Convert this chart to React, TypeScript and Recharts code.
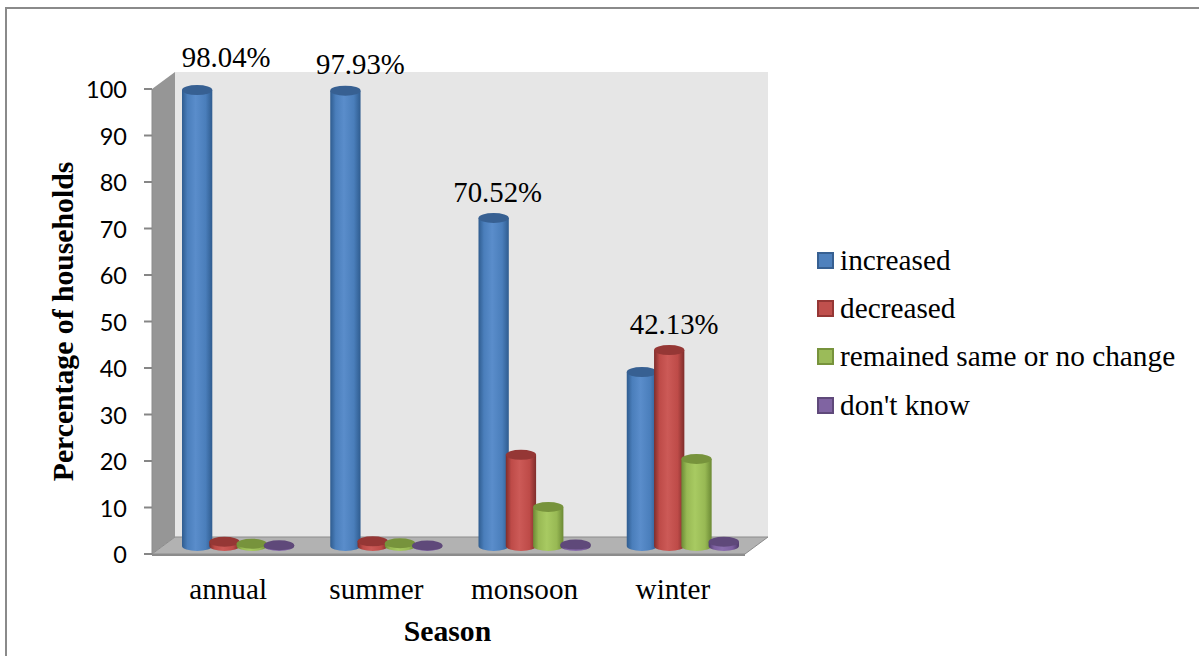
// App.tsx – household perception by season, drawn as a pseudo-3D cylinder bar chart
import React from 'react';
import { BarChart, Bar, XAxis, YAxis, Legend, LabelList, ReferenceArea } from 'recharts';

const seasons = ['annual', 'summer', 'monsoon', 'winter'];
const increased = [98.04, 97.93, 70.52, 37.4];
const decreased = [0.9, 1.0, 19.6, 42.13];
const remainedSame = [0.5, 0.6, 8.4, 18.7];
const dontKnow = [0.15, 0.1, 0.3, 0.9];
const yTicks = [0, 10, 20, 30, 40, 50, 60, 70, 80, 90, 100];

const chartData = seasons.map((season, i) => ({
  season,
  increased: increased[i],
  decreased: decreased[i],
  remainedSame: remainedSame[i],
  dontKnow: dontKnow[i],
}));

const SERIF = '"Liberation Serif", "Times New Roman", serif';
const SANS = 'Lato, "Open Sans", sans-serif';

// chart box
const WIDTH = 1199;
const HEIGHT = 656;
const TOP = 89;
const LEFT = 152;
const RIGHT = 454;
const X_AXIS_HEIGHT = 102;

// how far the back wall sits behind the axis plane
const WALL_DX = 23;
const WALL_DY = 17;
// bars stand in the middle of the floor
const BAR_DX = 11.5;
const BAR_DY = -8;
const BAR_OVERLAP = 3;
const CAP_RY = 5;

type Palette = { id: string; edge: string; mid: string; light: string; cap: string; swatch: string };

const blue: Palette = { id: 'cyl-blue', edge: '#2f5c8f', mid: '#4a7ebb', light: '#5a8dcb', cap: '#376092', swatch: '#4f81bd' };
const red: Palette = { id: 'cyl-red', edge: '#7f2d2b', mid: '#be4b48', light: '#cc5a57', cap: '#953735', swatch: '#c0504d' };
const green: Palette = { id: 'cyl-green', edge: '#6c8a35', mid: '#98b954', light: '#a8ca62', cap: '#77933c', swatch: '#9bbb59' };
const purple: Palette = { id: 'cyl-purple', edge: '#4f3a6b', mid: '#7d60a0', light: '#8a6eae', cap: '#5f497a', swatch: '#8064a2' };

const palettes = [blue, red, green, purple];

function CylinderGradient({ p }: { p: Palette }) {
  return (
    <linearGradient id={p.id} x1="0" y1="0" x2="1" y2="0">
      <stop offset="0%" stopColor={p.edge} />
      <stop offset="18%" stopColor={p.mid} />
      <stop offset="45%" stopColor={p.light} />
      <stop offset="78%" stopColor={p.mid} />
      <stop offset="100%" stopColor={p.edge} />
    </linearGradient>
  );
}

// Bar shape: a cylinder with an elliptical cap, moved back onto the floor
const cylinder = (p: Palette) => (props: any) => {
  const { x, y, width, height } = props;
  const left = x + BAR_DX - BAR_OVERLAP / 2;
  const w = width + BAR_OVERLAP;
  const rx = w / 2;
  const top = y + BAR_DY;
  const bottom = y + height + BAR_DY;
  const body = `M${left},${top} L${left},${bottom} A${rx},${CAP_RY} 0 0 0 ${left + w},${bottom} L${left + w},${top} Z`;
  return (
    <g>
      <path d={body} fill={`url(#${p.id})`} />
      <ellipse cx={left + rx} cy={top} rx={rx} ry={CAP_RY} fill={p.cap} />
    </g>
  );
};

// Back wall, side wall and floor, built on the rectangle the scales give
function Walls(props: any) {
  const { x, y, width, height } = props;
  const right = x + width;
  const bottom = y + height;
  return (
    <g>
      <polygon
        points={`${x + WALL_DX},${y - WALL_DY} ${right + WALL_DX},${y - WALL_DY} ${right + WALL_DX},${bottom - WALL_DY} ${x + WALL_DX},${bottom - WALL_DY}`}
        fill="#e6e6e6"
      />
      <polygon
        points={`${x},${y} ${x + WALL_DX},${y - WALL_DY} ${x + WALL_DX},${bottom - WALL_DY} ${x},${bottom}`}
        fill="#969696"
      />
      <polygon
        points={`${x},${bottom} ${x + WALL_DX},${bottom - WALL_DY} ${right + WALL_DX},${bottom - WALL_DY} ${right},${bottom}`}
        fill="#b2b2b2"
        stroke="#8c8c8c"
        strokeWidth={1}
      />
      <line x1={x} y1={bottom + 1} x2={right} y2={bottom + 1} stroke="#8c8c8c" strokeWidth={2} />
    </g>
  );
}

// Hand-placed value labels: shift from each bar's cap, per season
const labelNudge = [
  { dx: 29, dy: -23 },
  { dx: 15, dy: -17 },
  { dx: 4, dy: -16 },
  { dx: 5, dy: -16 },
];

const valueLabel = (only: number[]) => (props: any) => {
  const { x, y, width, value, index } = props;
  if (!only.includes(index)) return null;
  const n = labelNudge[index];
  return (
    <text
      x={x + width / 2 + BAR_DX + n.dx}
      y={y + BAR_DY + n.dy}
      textAnchor="middle"
      fontFamily={SERIF}
      fontSize={28.8}
      fill="#000"
    >
      {`${Number(value).toFixed(2)}%`}
    </text>
  );
};

function LegendList({ payload }: any) {
  return (
    <div>
      {(payload ?? []).map((entry: any, i: number) => (
        <div key={entry.value} style={{ display: 'flex', alignItems: 'center', height: 48.3 }}>
          <span
            style={{
              width: 13,
              height: 13,
              marginRight: 6,
              background: palettes[i].swatch,
              border: `2px solid ${palettes[i].cap}`,
              flex: 'none',
            }}
          />
          <span style={{ fontFamily: SERIF, fontSize: 29.3, color: '#000', whiteSpace: 'nowrap' }}>{entry.value}</span>
        </div>
      ))}
    </div>
  );
}

export default function App() {
  return (
    <div style={{ position: 'absolute', left: 0, top: 0, width: WIDTH, height: HEIGHT, overflow: 'hidden', background: '#fff' }}>
      {/* page frame, open on the right and bottom */}
      <div
        style={{
          position: 'absolute',
          left: 5,
          top: 7,
          width: WIDTH + 40,
          height: HEIGHT + 40,
          border: '2px solid #8a8a8a',
          boxSizing: 'border-box',
        }}
      />
      <BarChart
        width={WIDTH}
        height={HEIGHT}
        data={chartData}
        margin={{ top: TOP, right: RIGHT, bottom: 0, left: 0 }}
        barSize={27.3}
        barGap={0}
      >
        <defs>
          {palettes.map((p) => (
            <CylinderGradient key={p.id} p={p} />
          ))}
        </defs>
        <ReferenceArea y1={0} y2={100} shape={Walls} ifOverflow="visible" />
        <XAxis
          dataKey="season"
          height={X_AXIS_HEIGHT}
          axisLine={false}
          tickLine={false}
          tickMargin={18}
          dx={2}
          interval={0}
          tick={{ fontFamily: SERIF, fontSize: 29.2, fill: '#000' }}
          label={{
            value: 'Season',
            position: 'center',
            dy: 25,
            dx: -1,
            style: { fontFamily: SERIF, fontSize: 29.7, fontWeight: 'bold', fill: '#000' },
          }}
        />
        <YAxis
          width={LEFT}
          domain={[0, 100]}
          ticks={yTicks}
          interval={0}
          axisLine={{ stroke: '#8c8c8c' }}
          tickLine={{ stroke: '#868686', strokeWidth: 2 }}
          tickSize={8}
          tickMargin={17}
          tick={{ fontFamily: SANS, fontSize: 23.5, fill: '#000', dy: 1 }}
          label={{
            value: 'Percentage of households',
            angle: -90,
            position: 'center',
            dx: -14,
            style: { fontFamily: SERIF, fontSize: 29.7, fontWeight: 'bold', fill: '#000' },
          }}
        />
        <Bar dataKey="increased" name="increased" fill={blue.swatch} shape={cylinder(blue)} isAnimationActive={false}>
          <LabelList dataKey="increased" content={valueLabel([0, 1, 2])} />
        </Bar>
        <Bar dataKey="decreased" name="decreased" fill={red.swatch} shape={cylinder(red)} isAnimationActive={false}>
          <LabelList dataKey="decreased" content={valueLabel([3])} />
        </Bar>
        <Bar dataKey="remainedSame" name="remained same or no change" fill={green.swatch} shape={cylinder(green)} isAnimationActive={false} />
        <Bar dataKey="dontKnow" name="don't know" fill={purple.swatch} shape={cylinder(purple)} isAnimationActive={false} />
        <Legend
          layout="vertical"
          align="center"
          verticalAlign="middle"
          itemSorter={null}
          wrapperStyle={{ left: 817, top: 236, width: 370 }}
          content={<LegendList />}
        />
      </BarChart>
    </div>
  );
}
